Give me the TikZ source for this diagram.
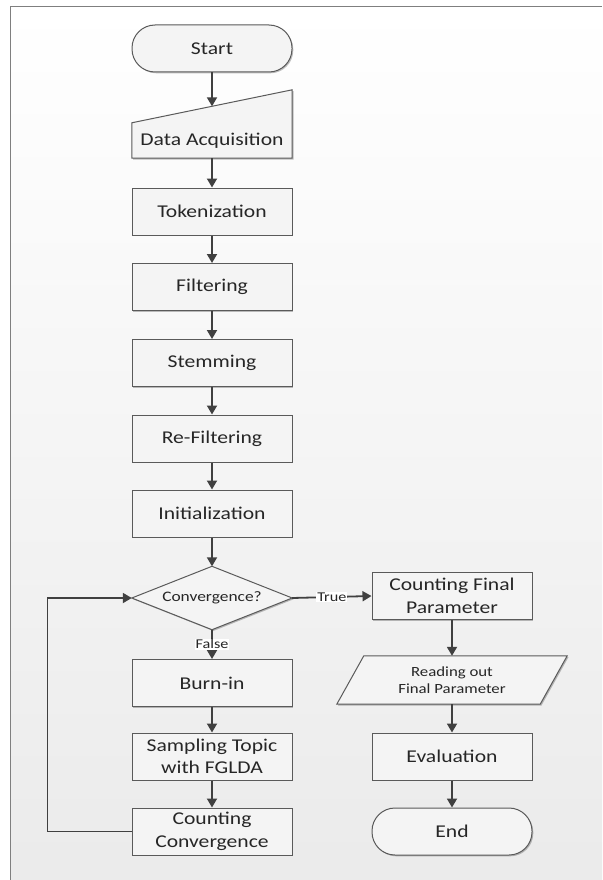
\documentclass[tikz,border=0pt]{standalone}
\usepackage{fontspec}
\setmainfont{Carlito}[FakeStretch=1.2]
\usetikzlibrary{arrows.meta,calc,shadows}
\definecolor{linec}{HTML}{404040}
\definecolor{boxc}{HTML}{5A5A5A}
\definecolor{boxfill}{HTML}{F4F4F4}
\definecolor{txtc}{HTML}{262626}
\definecolor{framec}{HTML}{7F7F7F}
\begin{document}
\begin{tikzpicture}[x=1pt,y=-1pt,
  shad/.style={drop shadow={shadow xshift=1.3pt,shadow yshift=-1.3pt,fill=black,opacity=0.25}},
  box/.style={draw=boxc,line width=1pt,fill=boxfill,shad,minimum width=160pt,minimum height=47pt,
    inner sep=1pt,align=center,text=txtc,font=\fontsize{18}{22.5}\selectfont},
  term/.style={box,rounded corners=23pt},
  ghost/.style={minimum width=160pt,inner sep=0pt,text=txtc,align=center},
  shapeline/.style={draw=boxc,line width=1pt,fill=boxfill,shad},
  arr/.style={draw=linec,line width=1.8pt,-{Triangle[length=9pt,width=10pt]}},
  lbl/.style={fill=white,inner sep=1pt,text=txtc,font=\fontsize{13.5}{15}\selectfont}
]
\useasboundingbox (0,0) rectangle (602,880);
% background and frame
\shade[top color=white,bottom color=black!8] (10,7) rectangle (602,880);
\draw[framec,line width=1pt] (10,880) -- (10,7) -- (602,7);

% left column
\node[term] (start) at (212,48.5) {Start};
\node[ghost,minimum height=68pt] (da) at (212,124) {};
\filldraw[shapeline] (da.south west) -- (da.south east) -- (da.north east) -- ($(da.north west)+(0,33)$) -- cycle;
\node[ghost,font=\fontsize{18}{21}\selectfont] (dat) at (212,141) {Data Acquisition};
\coordinate (datop) at ($(da.north)+(0,16.5)$);
\node[box] (tok) at (212,211.5) {Tokenization};
\node[box] (fil) at (212,287) {Filtering};
\node[box] (stem) at (212,363) {Stemming};
\node[box] (refil) at (212,438.5) {Re-Filtering};
\node[box] (init) at (212,513.5) {Initialization};
\node[ghost,minimum height=63pt] (dia) at (212,598) {};
\filldraw[shapeline] (dia.north) -- (dia.east) -- (dia.south) -- (dia.west) -- cycle;
\node[ghost,font=\fontsize{14.5}{17}\selectfont] (diat) at (212,598) {Convergence?};
\node[box] (burn) at (212,683) {Burn-in};
\node[box] (samp) at (212,756.5) {Sampling Topic\\with FGLDA};
\node[box] (cc) at (212,831.5) {Counting\\Convergence};

% right column
\node[box] (cfp) at (452,596) {Counting Final\\Parameter};
\node[ghost,minimum width=203pt,minimum height=48pt] (ro) at (452,680) {};
\filldraw[shapeline] ($(ro.north west)+(13.5,0)$) -- ($(ro.north east)+(13.5,0)$) -- ($(ro.south east)+(-13.5,0)$) -- ($(ro.south west)+(-13.5,0)$) -- cycle;
\node[ghost,font=\fontsize{14}{17.5}\selectfont] (rot) at (452,680) {Reading out\\Final Parameter};
\node[box] (eval) at (452,756.5) {Evaluation};
\node[term] (end) at (452,831.5) {End};

% connectors
\draw[arr] (start.south) -- (datop);
\draw[arr] (da.south) -- (tok.north);
\draw[arr] (tok.south) -- (fil.north);
\draw[arr] (fil.south) -- (stem.north);
\draw[arr] (stem.south) -- (refil.north);
\draw[arr] (refil.south) -- (init.north);
\draw[arr] (init.south) -- (dia.north);
\draw[arr] (dia.south) -- node[lbl] (flbl) {False} (burn.north);
\draw[arr] (burn.south) -- (samp.north);
\draw[arr] (samp.south) -- (cc.north);
\draw[arr] (cc.west) -- ++(-84,0) |- (dia.west);
\draw[arr] (dia.east) -- node[lbl] (tlbl) {True} (cfp.west);
\draw[arr] (cfp.south) -- (ro.north);
\draw[arr] (ro.south) -- (eval.north);
\draw[arr] (eval.south) -- (end.north);
\end{tikzpicture}
\end{document}
